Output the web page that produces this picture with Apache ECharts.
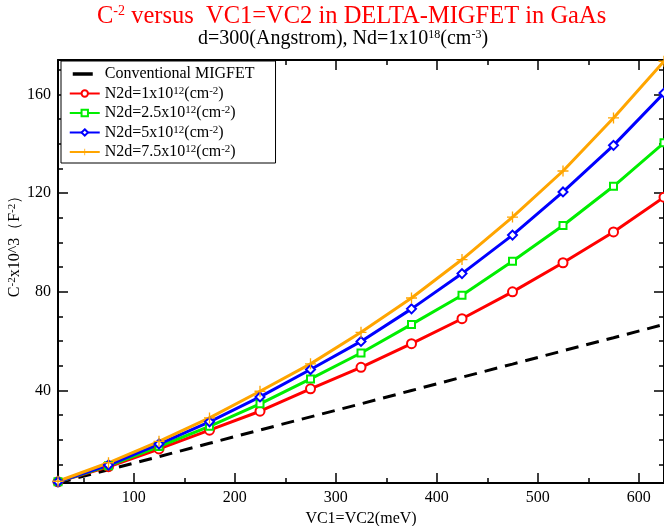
<!DOCTYPE html>
<html>
<head>
<meta charset="utf-8">
<title>C-2 versus VC1=VC2</title>
<script src="https://cdn.jsdelivr.net/npm/echarts@6/dist/echarts.min.js"></script>
<style>
  html, body { margin: 0; padding: 0; background: #fff; }
  #chart { width: 664px; height: 526px; }
</style>
</head>
<body>
<div id="chart"></div>
<script>
// VC1=VC2 in meV
var vc = [25, 75, 125, 175, 225, 275, 325, 375, 425, 475, 525, 575, 625];

// C^-2 x10^3 (F^-2)
var conventional = [2.5, 7.9, 13.2, 18.6, 24.0, 29.3, 34.6, 40.0, 45.4, 50.7, 56.1, 61.4, 66.8];
var n2d1 = [3.0, 9.1, 16.3, 23.9, 31.6, 40.7, 49.4, 59.0, 69.1, 80.0, 91.8, 104.3, 118.4];
var n2d25 = [3.0, 9.5, 17.3, 25.5, 34.6, 44.7, 55.2, 66.8, 78.6, 92.4, 106.9, 122.8, 140.4];
var n2d5 = [3.0, 9.8, 18.3, 27.3, 37.4, 48.5, 59.9, 73.1, 87.4, 103.0, 120.5, 139.4, 160.6];
var n2d75 = [3.2, 10.7, 19.4, 28.9, 39.7, 50.8, 63.6, 77.5, 93.1, 110.3, 129.0, 150.5, 173.5];

var xMajor = [100, 200, 300, 400, 500, 600];
var xMinor = [50, 150, 250, 350, 450, 550];
var yMajor = [40, 80, 120, 160];
var yMinor = [10, 20, 30, 50, 60, 70, 90, 100, 110, 130, 140, 150, 170];

var legendNames = ['Conventional MIGFET', 'N2d=1x10^12', 'N2d=2.5x10^12', 'N2d=5x10^12', 'N2d=7.5x10^12'];
var legendLabels = [
  'Conventional MIGFET',
  'N2d=1x10{s|12}(cm{s|-2})',
  'N2d=2.5x10{s|12}(cm{s|-2})',
  'N2d=5x10{s|12}(cm{s|-2})',
  'N2d=7.5x10{s|12}(cm{s|-2})'
];

var serif = 'Liberation Serif, Times New Roman, serif';
var plusSymbol = 'path://M4.4,0H5.6V4.4H10V5.6H5.6V10H4.4V5.6H0V4.4H4.4Z';

function pairs(ys) {
  var out = [];
  for (var i = 0; i < vc.length; ++i) {
    out.push([vc[i], ys[i]]);
  }
  return out;
}

function tickAxis(pos, ticks, len, withLine, extra) {
  var ax = {
    type: 'value',
    position: pos,
    splitLine: { show: false },
    axisLine: { show: withLine, onZero: false, lineStyle: { color: '#000', width: 2 } },
    axisTick: { show: true, inside: true, length: len, customValues: ticks, lineStyle: { color: '#000', width: 1.5 } },
    axisLabel: { show: false }
  };
  for (var k in extra) ax[k] = extra[k];
  return ax;
}

var xRange = { min: 25, max: 625 };
var yRange = { min: 2.5, max: 174 };

var xAxes = [
  tickAxis('bottom', xMajor, 10, true, xRange),
  tickAxis('bottom', xMinor, 5, false, xRange),
  tickAxis('top', xMajor, 10, true, xRange),
  tickAxis('top', xMinor, 5, false, xRange)
];
xAxes[0].axisLabel = { show: true, customValues: xMajor, color: '#000', fontFamily: serif, fontSize: 16, margin: 7 };
xAxes[0].name = 'VC1=VC2(meV)';
xAxes[0].nameLocation = 'middle';
xAxes[0].nameGap = 27;
xAxes[0].nameTextStyle = { color: '#000', fontFamily: serif, fontSize: 16 };

var yAxes = [
  tickAxis('left', yMajor, 10, true, yRange),
  tickAxis('left', yMinor, 5, false, yRange),
  tickAxis('right', yMajor, 10, true, yRange),
  tickAxis('right', yMinor, 5, false, yRange)
];
yAxes[0].axisLabel = { show: true, customValues: yMajor, color: '#000', fontFamily: serif, fontSize: 16, margin: 7 };
yAxes[0].name = '{a|C}{s|-2}{a|x10^3（F}{s|-2}{a|）}';
yAxes[0].nameLocation = 'middle';
yAxes[0].nameRotate = 90;
yAxes[0].nameGap = 35;
yAxes[0].nameMoveOverlap = false;
yAxes[0].nameTextStyle = {
  padding: [0, 0, 0, 58],
  rich: {
    a: { color: '#000', fontFamily: serif, fontSize: 16 },
    s: { color: '#000', fontFamily: serif, fontSize: 11, verticalAlign: 'top' }
  }
};

function lineSeries(name, ys, color, symbol, size, dashed) {
  return {
    name: name,
    type: 'line',
    data: pairs(ys),
    symbol: symbol,
    symbolSize: size,
    showSymbol: symbol != 'none',
    color: color,
    itemStyle: { color: color, borderWidth: 1.3 },
    lineStyle: { color: color, width: 3, type: dashed ? [13, 8] : 'solid' },
    emphasis: { disabled: true },
    z: 3
  };
}

var chart = echarts.init(document.getElementById('chart'), null, { renderer: 'canvas' });

var legendData = legendNames.map(function (n) { return { name: n }; });
// conventional entry is just one short black stroke
legendData[0].itemStyle = { opacity: 0 };
legendData[0].lineStyle = { type: [20, 40], dashOffset: -3, width: 3.5 };

var option = {
  backgroundColor: '#fff',
  animation: false,
  title: [{
    text: '{a|C}{s|-2}{a| versus  VC1=VC2 in DELTA-MIGFET in GaAs}',
    left: 97,
    top: 4,
    padding: 0,
    textStyle: {
      rich: {
        a: { color: '#ff0000', fontFamily: serif, fontSize: 24.5, fontWeight: 'normal' },
        s: { color: '#ff0000', fontFamily: serif, fontSize: 14, fontWeight: 'normal', verticalAlign: 'top' }
      }
    }
  }, {
    text: '{a|d=300(Angstrom), Nd=1x10}{s|18}{a|(cm}{s|-3}{a|)}',
    left: 198,
    top: 29,
    padding: 0,
    textStyle: {
      rich: {
        a: { color: '#000', fontFamily: serif, fontSize: 20, fontWeight: 'normal' },
        s: { color: '#000', fontFamily: serif, fontSize: 12, fontWeight: 'normal', verticalAlign: 'top' }
      }
    }
  }],
  legend: {
    orient: 'vertical',
    left: 61,
    top: 61,
    data: legendData,
    itemWidth: 30,
    itemHeight: 8,
    itemGap: 3.5,
    padding: [5, 21, 3, 7],
    borderColor: '#000',
    borderWidth: 1,
    backgroundColor: '#fff',
    formatter: function (name) {
      return legendLabels[legendNames.indexOf(name)];
    },
    textStyle: {
      color: '#000',
      fontFamily: serif,
      fontSize: 16,
      rich: {
        s: { color: '#000', fontFamily: serif, fontSize: 11, verticalAlign: 'top' }
      }
    },
    z: 10
  },
  grid: { left: 58, right: 0, top: 60, bottom: 43, containLabel: false, outerBoundsMode: 'none' },
  xAxis: xAxes,
  yAxis: yAxes,
  series: [
    lineSeries(legendNames[0], conventional, '#000', 'none', 0, true),
    lineSeries(legendNames[1], n2d1, '#ff0000', 'emptyCircle', 9),
    lineSeries(legendNames[2], n2d25, '#00ee00', 'emptyRect', 7),
    lineSeries(legendNames[3], n2d5, '#0000ff', 'emptyDiamond', 9),
    lineSeries(legendNames[4], n2d75, '#ffa500', plusSymbol, 11)
  ]
};

chart.setOption(option);
</script>
</body>
</html>
